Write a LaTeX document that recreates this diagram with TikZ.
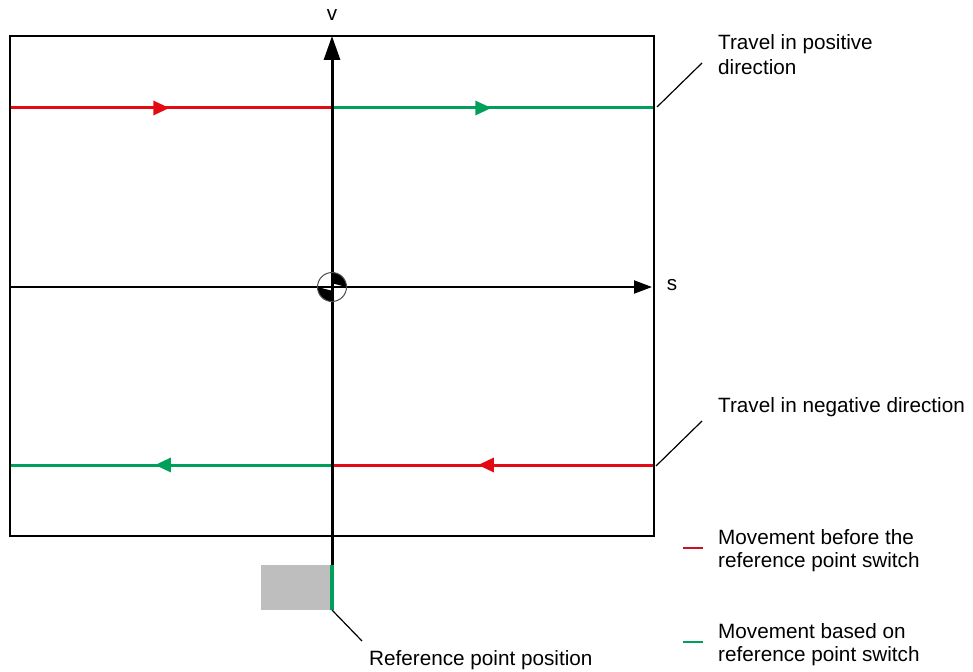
\documentclass[tikz,border=0pt]{standalone}
\usepackage{fontspec}
\setmainfont{Liberation Sans}
\usetikzlibrary{arrows.meta,decorations.markings,calc}
\definecolor{myred}{RGB}{228,10,20}
\definecolor{mygreen}{RGB}{0,160,90}
\definecolor{legred}{RGB}{200,20,30}
\definecolor{mygray}{RGB}{190,190,190}
\begin{document}
\begin{tikzpicture}[x=1pt,y=-1pt,
  lbl/.style={font=\fontsize{20.7}{25}\selectfont, inner sep=0pt},
  path/.style={line width=3pt},
  fwd/.style={decoration={markings, mark=at position #1 with {\arrow{Triangle[length=16pt,width=14pt]}}}, postaction=decorate},
  leader/.style={line width=1.2pt},
  ]
\useasboundingbox (0,0) rectangle (973,671);
% coordinates
\coordinate (O) at (332,287);
\coordinate (TL) at (10,108);
\coordinate (TM) at (332,108);
\coordinate (TR) at (654,108);
\coordinate (BL) at (10,465);
\coordinate (BM) at (332,465);
\coordinate (BR) at (654,465);
% gray reference switch area
\fill[mygray] (261,565) rectangle (332,610);
% travel lines
\draw[path, myred, fwd=0.495] (TL) -- (TM);
\draw[path, mygreen, fwd=0.495] (TM) -- (TR);
\draw[path, myred, fwd=0.547] (BR) -- (BM);
\draw[path, mygreen, fwd=0.55] (BM) -- (BL);
% frame
\draw[line width=2pt] (10,36) rectangle (654,536);
% axes
\coordinate (vbot) at (332,610);
\coordinate (vtop) at (332,36);
\coordinate (hl) at (10,287);
\coordinate (hr) at (652,287);
\draw[line width=3pt, -{Triangle[length=24pt,width=16pt]}] (vbot) -- (vtop);
\draw[line width=2pt, -{Triangle[length=18pt,width=13pt]}] (hl) -- (hr);
\draw[line width=4pt, mygreen] (332,565) -- (vbot);
% reference point symbol
\fill[white] (O) circle (14.5);
\fill[black] ($(O)+(0,-14.5)$) arc[start angle=90,end angle=0,radius=14.5pt] -- ($(O)+(1,-3.5)$) -- cycle;
\fill[black] ($(O)+(0,14.5)$) arc[start angle=270,end angle=180,radius=14.5pt] -- ($(O)+(-1,3.5)$) -- cycle;
\draw[line width=3pt] (332,272) -- (332,302);
\draw[line width=2pt] (317,287) -- (347,287);
\draw[line width=1pt, gray!60!black] (O) circle (14.5);
% labels
\node[lbl] (v) at (332,15) {v};
\node[lbl] (s) at (672,285) {s};
\node[lbl, anchor=base west] (pos1) at (718,50) {Travel in positive};
\node[lbl, anchor=base west] (pos2) at (718,75) {direction};
\node[lbl, anchor=base west] (neg) at (718,412) {Travel in negative direction};
\node[lbl, anchor=base west] (m1a) at (718,544) {Movement before the};
\node[lbl, anchor=base west] (m1b) at (718,567) {reference point switch};
\node[lbl, anchor=base west] (m2a) at (718,638) {Movement based on};
\node[lbl, anchor=base west] (m2b) at (718,661) {reference point switch};
\node[lbl, anchor=base west] (ref) at (369,665) {Reference point position};
% leaders
\coordinate (lp) at (702,63);
\coordinate (ln) at (702,421);
\coordinate (lr) at (362,641);
\draw[leader] (657,107) -- (lp);
\draw[leader] (656,466) -- (ln);
\draw[leader] (vbot) -- (lr);
% legend dashes
\coordinate (r1) at (683,548); \coordinate (r2) at (703,548);
\coordinate (g1) at (683,642); \coordinate (g2) at (703,642);
\draw[line width=2pt, legred] (r1) -- (r2);
\draw[line width=2pt, mygreen] (g1) -- (g2);
\end{tikzpicture}
\end{document}
